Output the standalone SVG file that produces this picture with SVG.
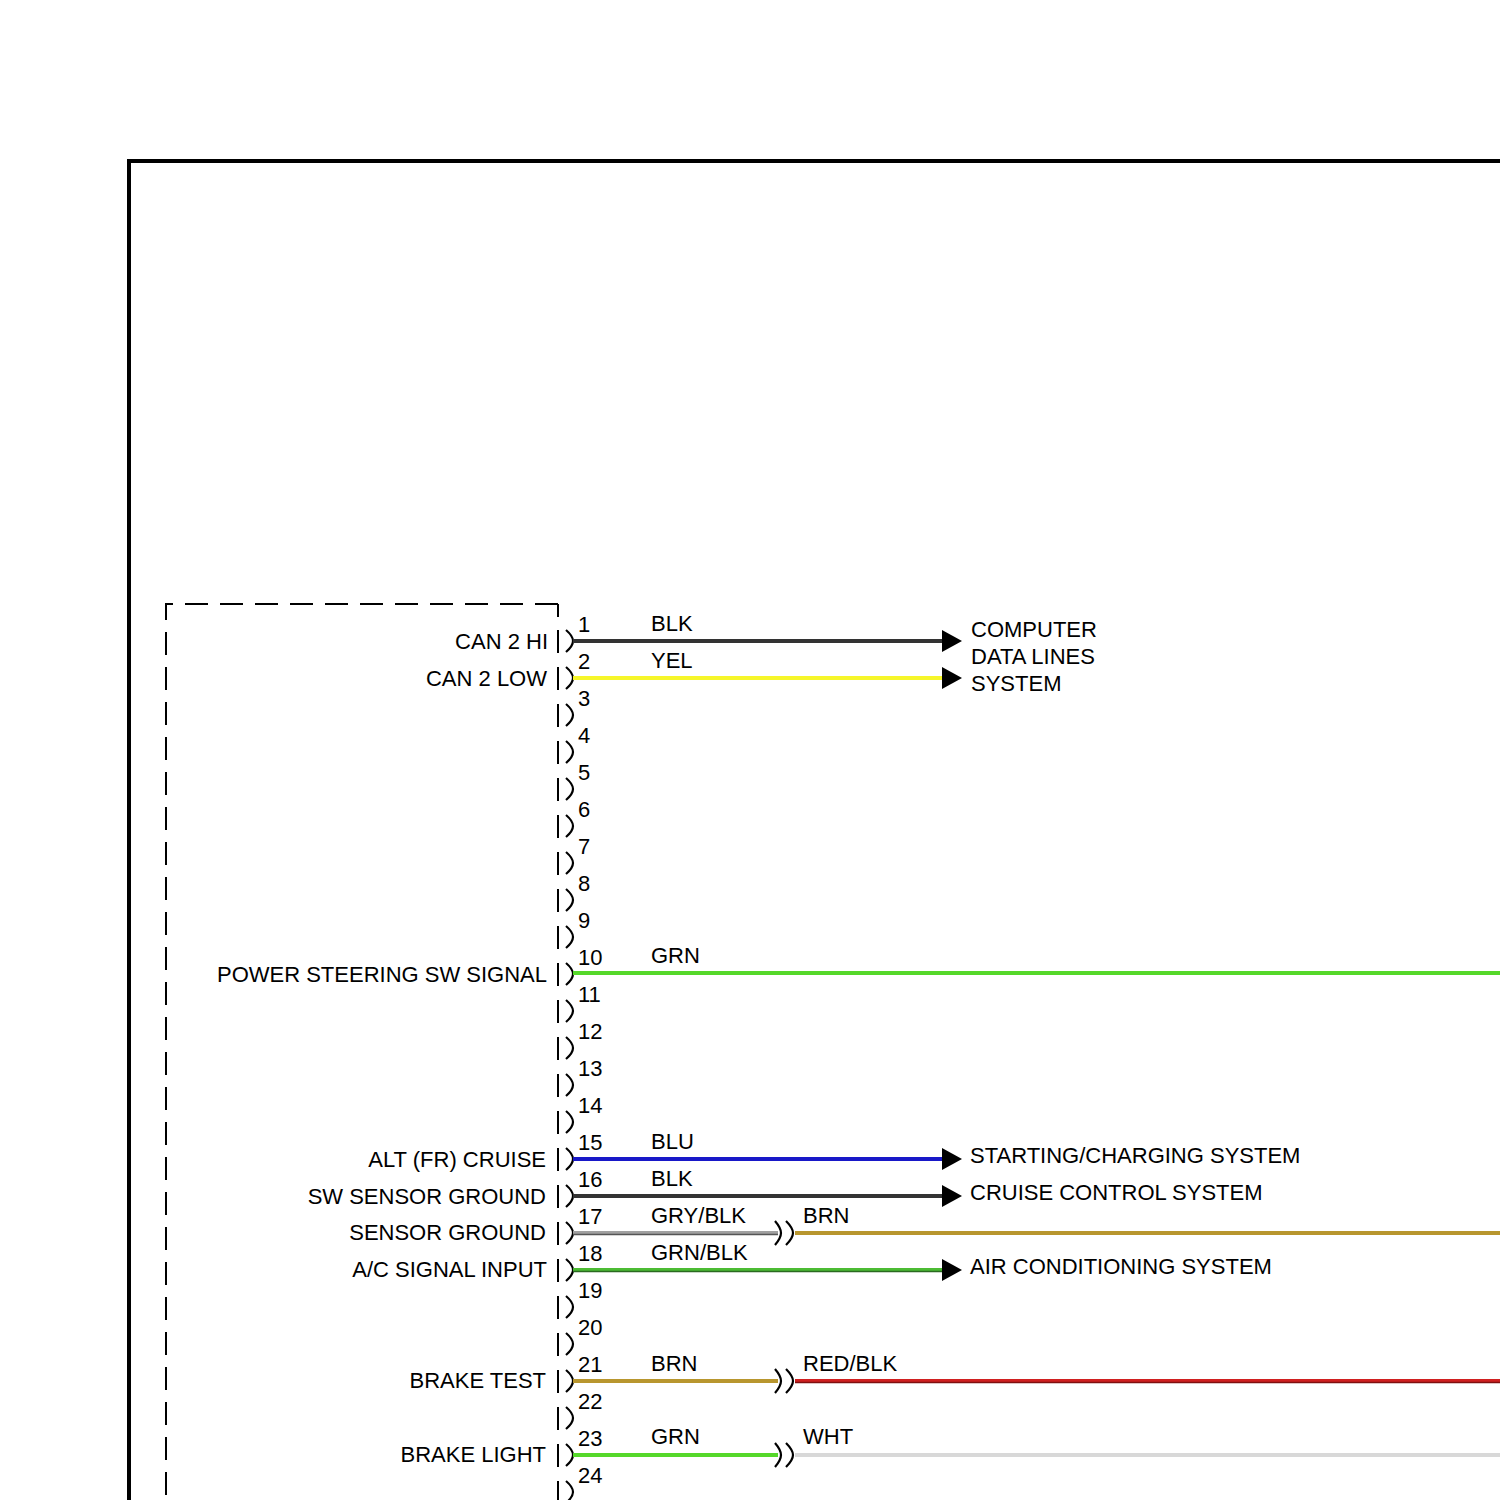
<svg xmlns="http://www.w3.org/2000/svg" width="1500" height="1500" viewBox="0 0 1500 1500">
<style>
text{font-family:"Liberation Sans",Arial,sans-serif;font-size:22px;fill:#000}
.lbl{text-anchor:end}
.frame{fill:none;stroke:#000;stroke-width:4}
.dash{fill:none;stroke:#000;stroke-width:2;stroke-dasharray:23,12}
.bar{stroke:#000;stroke-width:2}
.br{fill:none;stroke:#000;stroke-width:2.2;stroke-linejoin:round}
.w{fill:none;stroke-width:4}
.stripe{fill:none;stroke-width:1.5}
.arr{fill:#000}
</style>
<rect width="1500" height="1500" fill="#fff"/>
<path class="frame" d="M129,1500 L129,161 L1500,161"/>

<g id="module">
<path class="dash" d="M558,604 L166,604 L166,1500"/>
<line class="bar" x1="558" y1="604" x2="558" y2="617"/>
<g id="pins">
<path class="bar" d="M558,630v23M558,667v23M558,704v23M558,741v23M558,778v23M558,815v23M558,852v23M558,889v23M558,926v23M558,963v23M558,1000v23M558,1037v23M558,1074v23M558,1111v23M558,1148v23M558,1185v23M558,1222v23M558,1259v23M558,1296v23M558,1333v23M558,1370v23M558,1407v23M558,1444v23M558,1481v19"/>
<path class="br" d="M566,630q7,6 7,11q0,5 -7,11M566,667q7,6 7,11q0,5 -7,11M566,704q7,6 7,11q0,5 -7,11M566,741q7,6 7,11q0,5 -7,11M566,778q7,6 7,11q0,5 -7,11M566,815q7,6 7,11q0,5 -7,11M566,852q7,6 7,11q0,5 -7,11M566,889q7,6 7,11q0,5 -7,11M566,926q7,6 7,11q0,5 -7,11M566,963q7,6 7,11q0,5 -7,11M566,1000q7,6 7,11q0,5 -7,11M566,1037q7,6 7,11q0,5 -7,11M566,1074q7,6 7,11q0,5 -7,11M566,1111q7,6 7,11q0,5 -7,11M566,1148q7,6 7,11q0,5 -7,11M566,1185q7,6 7,11q0,5 -7,11M566,1222q7,6 7,11q0,5 -7,11M566,1259q7,6 7,11q0,5 -7,11M566,1296q7,6 7,11q0,5 -7,11M566,1333q7,6 7,11q0,5 -7,11M566,1370q7,6 7,11q0,5 -7,11M566,1407q7,6 7,11q0,5 -7,11M566,1444q7,6 7,11q0,5 -7,11M566,1481q7,6 7,11q0,5 -7,11"/>
<text x="578" y="632">1</text>
<text x="578" y="669">2</text>
<text x="578" y="706">3</text>
<text x="578" y="743">4</text>
<text x="578" y="780">5</text>
<text x="578" y="817">6</text>
<text x="578" y="854">7</text>
<text x="578" y="891">8</text>
<text x="578" y="928">9</text>
<text x="578" y="965">10</text>
<text x="578" y="1002">11</text>
<text x="578" y="1039">12</text>
<text x="578" y="1076">13</text>
<text x="578" y="1113">14</text>
<text x="578" y="1150">15</text>
<text x="578" y="1187">16</text>
<text x="578" y="1224">17</text>
<text x="578" y="1261">18</text>
<text x="578" y="1298">19</text>
<text x="578" y="1335">20</text>
<text x="578" y="1372">21</text>
<text x="578" y="1409">22</text>
<text x="578" y="1446">23</text>
<text x="578" y="1483">24</text>
</g>
<g id="pin-labels">
<text class="lbl" x="548" y="649">CAN 2 HI</text>
<text class="lbl" x="547" y="686">CAN 2 LOW</text>
<text class="lbl" x="547" y="982">POWER STEERING SW SIGNAL</text>
<text class="lbl" x="546" y="1167">ALT (FR) CRUISE</text>
<text class="lbl" x="546" y="1204">SW SENSOR GROUND</text>
<text class="lbl" x="546" y="1240">SENSOR GROUND</text>
<text class="lbl" x="547" y="1277">A/C SIGNAL INPUT</text>
<text class="lbl" x="546" y="1388">BRAKE TEST</text>
<text class="lbl" x="546" y="1462">BRAKE LIGHT</text>
</g>
</g>

<g id="connectors">
<line class="w" x1="573" y1="641" x2="944" y2="641" stroke="#333"/>
<line class="w" x1="573" y1="678" x2="944" y2="678" stroke="#f6f62a"/>
<line class="w" x1="573" y1="973" x2="1500" y2="973" stroke="#55d82a"/>
<line class="w" x1="573" y1="1159" x2="944" y2="1159" stroke="#1818c8"/>
<line class="w" x1="573" y1="1196" x2="944" y2="1196" stroke="#333"/>
<line class="w" x1="573" y1="1233" x2="778" y2="1233" stroke="#a0a0a0"/>
<line class="stripe" x1="573" y1="1234.5" x2="778" y2="1234.5" stroke="#555"/>
<line class="w" x1="795" y1="1233" x2="1500" y2="1233" stroke="#b8962e"/>
<line class="w" x1="573" y1="1270" x2="944" y2="1270" stroke="#4cbc34"/>
<line class="stripe" x1="573" y1="1271.5" x2="944" y2="1271.5" stroke="#2a6a20"/>
<line class="w" x1="573" y1="1381" x2="778" y2="1381" stroke="#b8962e"/>
<line class="w" x1="795" y1="1381" x2="1500" y2="1381" stroke="#d02020"/>
<line class="stripe" x1="795" y1="1382.5" x2="1500" y2="1382.5" stroke="#801010"/>
<line class="w" x1="573" y1="1455" x2="778" y2="1455" stroke="#55d82a"/>
<line class="w" x1="795" y1="1455" x2="1500" y2="1455" stroke="#d8d8d8"/>
<polygon class="arr" points="942,630 962,641 942,652"/>
<polygon class="arr" points="942,667 962,678 942,689"/>
<polygon class="arr" points="942,1148 962,1159 942,1170"/>
<polygon class="arr" points="942,1185 962,1196 942,1207"/>
<polygon class="arr" points="942,1259 962,1270 942,1281"/>
<path class="br" d="M775,1221q6,7 6,12q0,5 -6,12M786,1221q7,7 7,12q0,5 -7,12M775,1369q6,7 6,12q0,5 -6,12M786,1369q7,7 7,12q0,5 -7,12M775,1443q6,7 6,12q0,5 -6,12M786,1443q7,7 7,12q0,5 -7,12"/>
<text x="651" y="631">BLK</text>
<text x="651" y="668">YEL</text>
<text x="651" y="963">GRN</text>
<text x="651" y="1149">BLU</text>
<text x="651" y="1186">BLK</text>
<text x="651" y="1223">GRY/BLK</text>
<text x="803" y="1223">BRN</text>
<text x="651" y="1260">GRN/BLK</text>
<text x="651" y="1371">BRN</text>
<text x="803" y="1371">RED/BLK</text>
<text x="651" y="1444">GRN</text>
<text x="803" y="1444">WHT</text>
</g>

<g id="destinations">
<text x="971" y="637">COMPUTER</text>
<text x="971" y="664">DATA LINES</text>
<text x="971" y="691">SYSTEM</text>
<text x="970" y="1163">STARTING/CHARGING SYSTEM</text>
<text x="970" y="1200">CRUISE CONTROL SYSTEM</text>
<text x="970" y="1274">AIR CONDITIONING SYSTEM</text>
</g>
</svg>
